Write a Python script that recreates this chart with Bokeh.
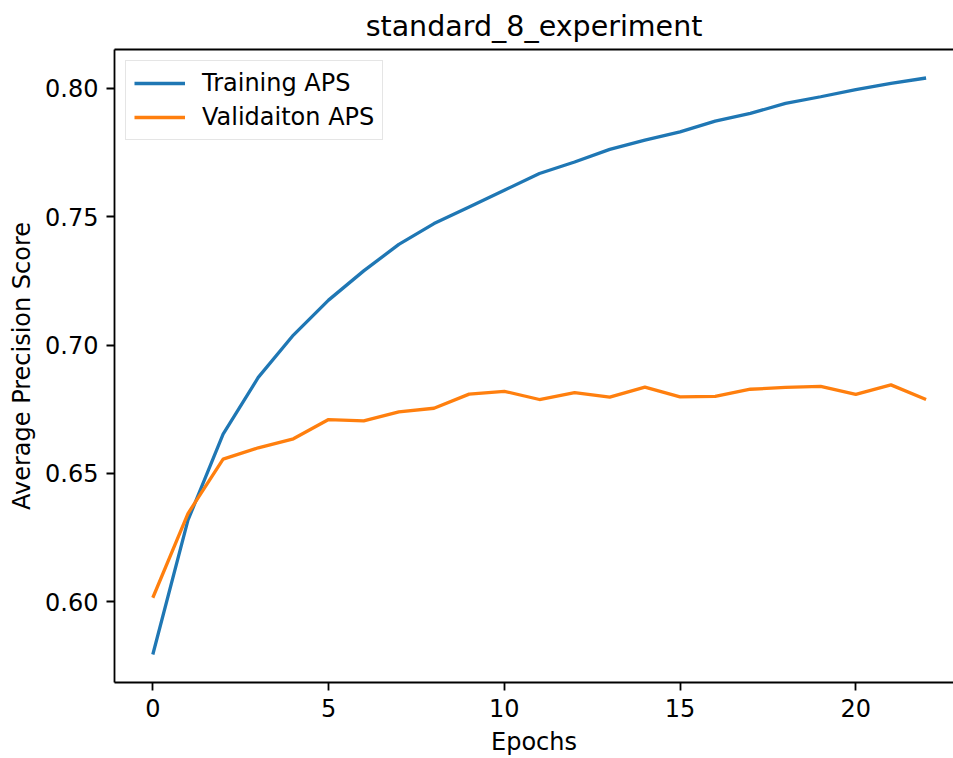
from bokeh.plotting import figure
from bokeh.models import (Range1d, FixedTicker, LinearAxis, Legend, LegendItem,
                          NumeralTickFormatter)
from bokeh.embed import file_html
from bokeh.resources import INLINE

# ---- data ----
epochs = list(range(23))
training_aps = [0.5795, 0.6318, 0.6653, 0.6874, 0.7039, 0.7175, 0.7289, 0.7392,
                0.7473, 0.7538, 0.7603, 0.7668, 0.7713, 0.7762, 0.7798, 0.7830,
                0.7872, 0.7902, 0.7941, 0.7967, 0.7995, 0.8019, 0.8040]
validation_aps = [0.6016, 0.6344, 0.6556, 0.6600, 0.6635, 0.6710, 0.6705, 0.6740,
                  0.6754, 0.6809, 0.6820, 0.6788, 0.6815, 0.6797, 0.6836, 0.6798,
                  0.6800, 0.6828, 0.6835, 0.6839, 0.6808, 0.6845, 0.6788]
x_ticks = [0, 5, 10, 15, 20]
y_ticks = [0.60, 0.65, 0.70, 0.75, 0.80]
title_text = "standard_8_experiment"
x_label = "Epochs"
y_label = "Average Precision Score"
series_names = ["Training APS", "Validaiton APS"]
colors = ["#1f77b4", "#ff7f0e"]

FONT = "DejaVu Sans"
TICK_FS = "24px"

p = figure(width=953, height=758, output_backend="svg", toolbar_location=None,
           x_range=Range1d(-1.09, 22.78), y_range=Range1d(0.5686, 0.8151),
           min_border_left=114, min_border_right=0, min_border_top=49, min_border_bottom=76,
           title=title_text)
p.title.text_font = FONT
p.title.text_font_size = "28.5px"
p.title.text_font_style = "normal"
p.title.align = "center"
p.title.text_color = "black"
p.title.standoff = 13

p.outline_line_color = None
p.xgrid.visible = False
p.ygrid.visible = False
p.background_fill_color = "white"
p.border_fill_color = "white"

for ax in (p.xaxis[0], p.yaxis[0]):
    ax.major_tick_in = 0
    ax.major_tick_out = 8
    ax.minor_tick_in = 0
    ax.minor_tick_out = 0
    ax.major_tick_line_width = 1.8
    ax.axis_line_width = 1.8
    ax.axis_line_color = "black"
    ax.major_tick_line_color = "black"
    ax.major_label_text_font = FONT
    ax.major_label_text_font_size = TICK_FS
    ax.major_label_text_color = "black"
    ax.major_label_standoff = 8
    ax.axis_label_text_font = FONT
    ax.axis_label_text_font_size = TICK_FS
    ax.axis_label_text_font_style = "normal"
    ax.axis_label_text_color = "black"

p.xaxis[0].ticker = FixedTicker(ticks=x_ticks)
p.yaxis[0].ticker = FixedTicker(ticks=y_ticks)
p.yaxis[0].formatter = NumeralTickFormatter(format="0.00")
p.xaxis[0].axis_label = x_label
p.yaxis[0].axis_label = y_label
p.xaxis[0].axis_label_standoff = 8
p.yaxis[0].axis_label_standoff = 6

# top spine
top = LinearAxis(ticker=FixedTicker(ticks=[]), major_label_text_font_size="0px",
                 major_tick_in=0, major_tick_out=0, minor_tick_in=0, minor_tick_out=0,
                 axis_line_width=1.8, axis_line_color="black")
p.add_layout(top, "above")

r1 = p.line(epochs, training_aps, line_color=colors[0], line_width=3.3)
r2 = p.line(epochs, validation_aps, line_color=colors[1], line_width=3.3)

legend = Legend(items=[LegendItem(label=series_names[0], renderers=[r1]),
                       LegendItem(label=series_names[1], renderers=[r2])],
                location="top_left")
legend.margin = 11
legend.padding = 8
legend.spacing = 6
legend.glyph_width = 51
legend.glyph_height = 26
legend.label_height = 26
legend.label_standoff = 17
legend.label_text_font = FONT
legend.label_text_font_size = TICK_FS
legend.label_text_color = "black"
legend.border_line_color = "#cccccc"
legend.border_line_width = 1.8
legend.background_fill_alpha = 0.8
p.add_layout(legend)

open("out.html", "w").write(file_html(p, INLINE))
